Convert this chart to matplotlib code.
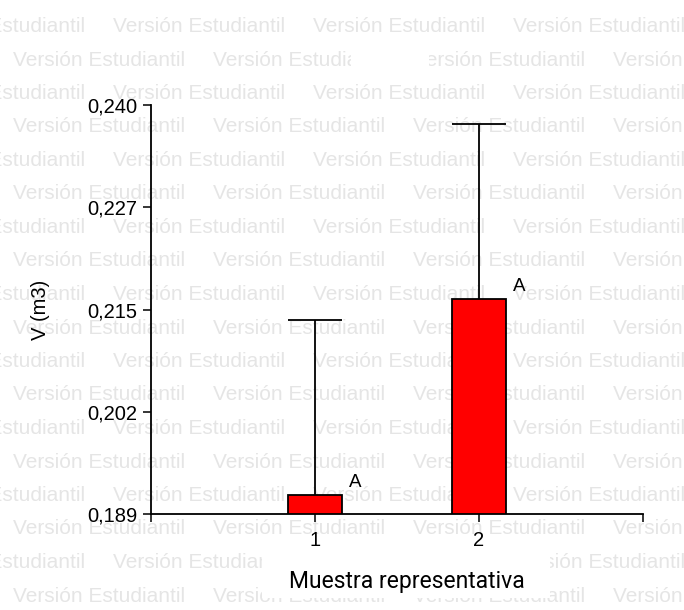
import matplotlib
matplotlib.use("Agg")
import matplotlib.pyplot as plt
from matplotlib.patches import Rectangle

# ---- data ----
categories = ["1", "2"]
means = [0.1914, 0.2158]
upper_err = [0.0218, 0.0218]
letters = ["A", "A"]
ytick_vals = [0.189, 0.20175, 0.2145, 0.22725, 0.240]
ytick_labels = ["0,189", "0,202", "0,215", "0,227", "0,240"]
xlabel = "Muestra representativa"
ylabel = "V (m3)"
watermark = "Versión Estudiantil"

W, H = 684, 610
DPI = 100
fig = plt.figure(figsize=(W / DPI, H / DPI), dpi=DPI)
fig.patch.set_facecolor("white")

# ---- watermark (figure pixel coordinates) ----
def fx(px):
    return px / W

def fy(py):
    return 1 - py / H

for i in range(19):
    base = 32 + 33.5 * i
    off = 113 if i % 2 == 0 else 13
    x = off - 200
    while x < W:
        fig.text(fx(x), fy(base), watermark, fontsize=15,
                 family="Liberation Sans", color="#e5e5e5",
                 ha="left", va="baseline", zorder=-3)
        x += 200

# white boxes behind title/xlabel areas
fig.patches.append(Rectangle((fx(351), fy(78)), (429 - 351) / W, 36 / H,
                             transform=fig.transFigure, facecolor="white",
                             edgecolor="none", zorder=-2))
fig.patches.append(Rectangle((fx(262), fy(598)), (550 - 262) / W, 53 / H,
                             transform=fig.transFigure, facecolor="white",
                             edgecolor="none", zorder=-2))

# ---- axes ----
left, right, top, bottom = 151, 643, 105, 514
ax = fig.add_axes([left / W, 1 - bottom / H, (right - left) / W, (bottom - top) / H])
ax.set_facecolor("none")
ax.set_zorder(0)

ymin, ymax = ytick_vals[0], ytick_vals[-1]
xs = [1, 2]
bw = 0.335
ax.bar(xs, [m - ymin for m in means], bottom=ymin, width=bw, color="#ff0000",
       edgecolor="black", linewidth=1.3, zorder=3)
for x, m, e, lt in zip(xs, means, upper_err, letters):
    ax.vlines(x, m, m + e, color="black", linewidth=1.3, zorder=2)
    ax.hlines(m + e, x - bw / 2, x + bw / 2, color="black", linewidth=1.3, zorder=2)
    ax.annotate(lt, (x + bw / 2, m), xytext=(6, 8), textcoords="offset pixels",
                ha="left", va="baseline", fontsize=13.5, family="Liberation Sans")

ax.set_xlim(0, 3)
ax.set_ylim(ymin, ymax)
for s in ["top", "right"]:
    ax.spines[s].set_visible(False)
for s in ["left", "bottom"]:
    ax.spines[s].set_linewidth(1.3)

ax.set_xticks([0, 1, 2, 3])
ax.set_xticklabels([""] + categories + [""])
ax.set_yticks(ytick_vals)
ax.set_yticklabels(ytick_labels)
ax.tick_params(axis="both", direction="out", length=6, width=1.1,
               labelsize=14.5)
ax.tick_params(axis="y", pad=4)
ax.tick_params(axis="x", pad=6)
for lab in ax.get_xticklabels() + ax.get_yticklabels():
    lab.set_family("Liberation Sans")

ax.set_xlabel(xlabel, fontsize=16.5, family="Roboto")
ax.xaxis.set_label_coords((406.5 - left) / (right - left), (bottom - 588) / (bottom - top))
ax.xaxis.label.set_va("baseline")

ax.set_ylabel(ylabel, fontsize=14.5, family="Liberation Sans")
ax.yaxis.set_label_coords((40 - left) / (right - left), 0.5)
ax.yaxis.label.set_va("center")

fig.savefig("out.png", dpi=DPI, facecolor="white")
